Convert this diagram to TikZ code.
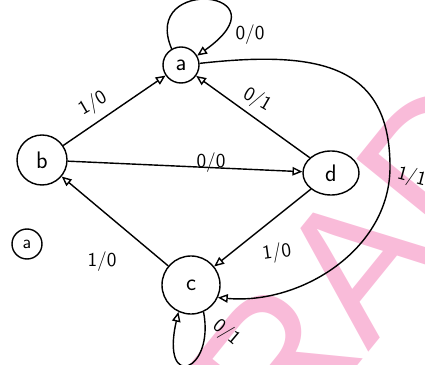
\documentclass[tikz,border=0pt]{standalone}
\usepackage{fontspec}
\newfontfamily\wmfont{Liberation Sans}
\usetikzlibrary{arrows.meta,shapes.geometric}
\definecolor{draftpink}{RGB}{249,187,217}
\begin{document}
\begin{tikzpicture}[x=0.025cm, y=-0.025cm,
  state/.style={draw, circle, inner sep=0pt, line width=1pt, font=\sffamily\fontsize{17}{17}\selectfont},
  edge/.style={line width=1pt, -{Triangle[open,length=7pt,width=6pt]}},
  lbl/.style={font=\sffamily\fontsize{14}{14}\selectfont, inner sep=1pt}]
\useasboundingbox (0,0) rectangle (425,365);
\clip (0,0) rectangle (425,365);
% watermark
\node [rotate=51, anchor=base west, inner sep=0pt, text=draftpink, font=\wmfont\fontsize{135}{135}\selectfont] (mark) at (282,459) {RAD};
% states
\node [state, minimum size=0.9cm] (a) at (181,65) {a};
\node [state, minimum size=1.25cm] (b) at (42,160) {b};
\node [state, minimum size=1.45cm] (c) at (191,285) {c};
\node [state, ellipse, minimum width=1.4cm, minimum height=1.1cm] (d) at (331,173) {d};
\node [state, minimum size=0.75cm, font=\sffamily\fontsize{13}{13}\selectfont] (part) at (27,244) {a};
% transitions
\draw [edge] (a.120) .. controls (140,-25) and (290,-10) .. (a.30);
\draw [edge] (b) -- (a);
\draw [edge] (d) -- (a);
\draw [edge] (b) -- (d);
\draw [edge] (c) -- (b);
\draw [edge] (d) -- (c);
\draw [edge] (a.5) .. controls (320,50) and (390,65) .. (390,167)
  .. controls (390,250) and (300,305) .. (c.-25);
\draw [edge] (c.-65) .. controls (215,372) and (160,392) .. (c.-115);
% labels
\node [lbl] (l-aa) at (250,35) {0/0};
\node [lbl, rotate=30] (l-ba) at (93,104) {1/0};
\node [lbl, rotate=-30] (l-da) at (257,100) {0/1};
\node [lbl] (l-bd) at (211,163) {0/0};
\node [lbl] (l-cb) at (102,262) {1/0};
\node [lbl, rotate=8] (l-dc) at (277,253) {1/0};
\node [lbl, rotate=-15, anchor=west] (l-ac) at (396,173) {1/1};
\node [lbl, rotate=-40] (l-cc) at (226,333) {0/1};
\end{tikzpicture}
\end{document}
